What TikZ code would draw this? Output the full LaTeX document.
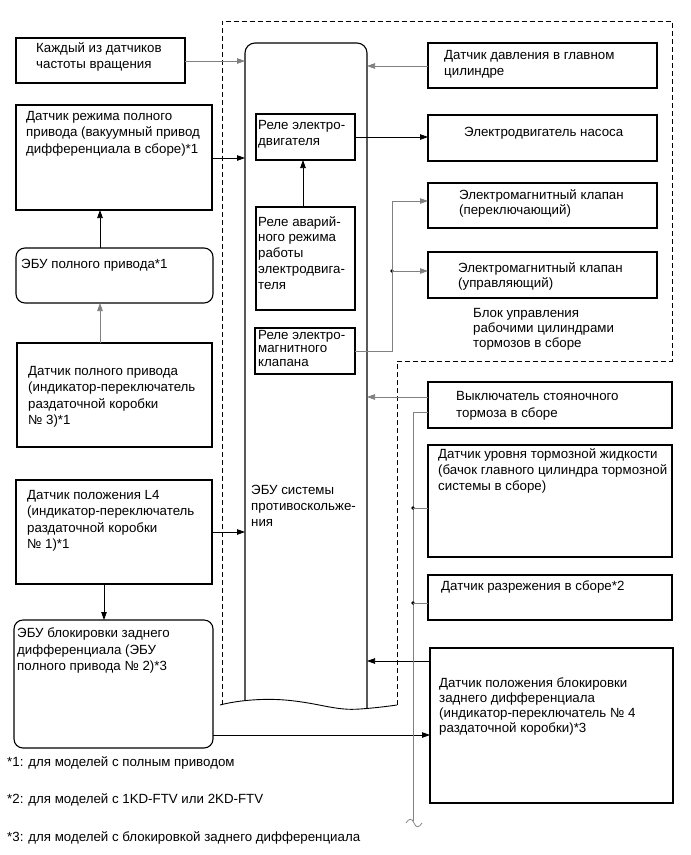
\documentclass[tikz,border=0pt]{standalone}
\usepackage{fontspec}
\setmainfont{Liberation Sans}
\usetikzlibrary{arrows.meta,calc}
\begin{document}
\begin{tikzpicture}[x=1pt,y=-1pt,
  box/.style={draw, line width=1.1pt, anchor=north west, inner sep=0pt, outer sep=0pt},
  rbox/.style={box, rounded corners=9pt},
  txt/.style={anchor=north west, inner sep=0pt, align=left, font=\fontsize{13.3}{16.5}\selectfont},
  txtb/.style={txt, font=\fontsize{13.3}{15}\selectfont},
  txtc/.style={txt, font=\fontsize{13.3}{13.6}\selectfont},
  conn/.style={line width=0.75pt, black},
  gconn/.style={line width=0.75pt, black!50},
  arr/.style={-{Triangle[length=8pt,width=5.5pt]}},
  dashedbox/.style={line width=0.9pt, dash pattern=on 5pt off 3pt},
  jdot/.style={circle, fill=black, inner sep=0pt, minimum size=3.6pt}
]
\useasboundingbox (0,0) rectangle (691,855);

% dashed outline
\draw[dashedbox] (222,705) -- (222,21) -- (672,21) -- (672,361) -- (397,361) -- (397,705);

% ECU
\node[inner sep=0pt, outer sep=0pt, anchor=north west, minimum width=122pt, minimum height=660pt] (ecu) at (245,43) {};
\draw[line width=1.1pt, rounded corners=10pt] (245,700.6) -- (245,43) -- (367,43) -- (367,708.3);
\draw[line width=0.9pt] (220,705) .. controls (235,701) and (260,698) .. (285,700) .. controls (320,703) and (335,711) .. (360,709) .. controls (375,708) and (390,706) .. (397,705);
\node[txt, font=\fontsize{13.3}{16}\selectfont] (ecut) at (251,485) {ЭБУ системы\\противоскольже-\\ния};

% left boxes
\node[box, minimum width=169pt, minimum height=45pt] (s1) at (16,38) {};
\node[txt] (s1t) at (36,42) {Каждый из датчиков\\частоты вращения};
\node[box, minimum width=196pt, minimum height=105pt] (s2) at (16,105) {};
\node[txt] (s2t) at (26,111) {Датчик режима полного\\привода (вакуумный привод\\дифференциала в сборе)*1};
\node[rbox, minimum width=197pt, minimum height=55pt] (e4) at (16,248) {};
\node[txt] (e4t) at (21,259) {ЭБУ полного привода*1};
\node[box, minimum width=195pt, minimum height=104pt] (s3) at (17,343) {};
\node[txt] (s3t) at (28,366) {Датчик полного привода\\(индикатор-переключатель\\раздаточной коробки\\№ 3)*1};
\node[box, minimum width=196pt, minimum height=104pt] (s4) at (16,480) {};
\node[txt] (s4t) at (27,490) {Датчик положения L4\\(индикатор-переключатель\\раздаточной коробки\\№ 1)*1};
\node[rbox, minimum width=199pt, minimum height=128pt] (e2) at (14,620) {};
\node[txt] (e2t) at (17,628) {ЭБУ блокировки заднего\\дифференциала (ЭБУ\\полного привода № 2)*3};

% relays inside ECU
\node[box, minimum width=99pt, minimum height=46pt] (r1) at (256,114) {};
\node[txt, font=\fontsize{13.3}{16}\selectfont] (r1t) at (258,120) {Реле электро-\\двигателя};
\node[box, minimum width=99pt, minimum height=103pt] (r2) at (256,207) {};
\node[txt, font=\fontsize{13.3}{15.8}\selectfont] (r2t) at (258,216) {Реле аварий-\\ного режима\\работы\\электродвига-\\теля};
\node[box, minimum width=100pt, minimum height=46pt] (r3) at (255,328) {};
\node[txtc] (r3t) at (258,330) {Реле электро-\\магнитного\\клапана};

% right boxes
\node[box, minimum width=229pt, minimum height=45pt] (ra) at (428,43) {};
\node[txt, font=\fontsize{13.3}{16}\selectfont] (rat) at (444,50) {Датчик давления в главном\\цилиндре};
\node[box, minimum width=229pt, minimum height=46pt] (rb) at (428,115) {};
\node[txt, anchor=west] (rbt) at (464,133) {Электродвигатель насоса};
\node[box, minimum width=229pt, minimum height=45pt] (rc) at (428,183) {};
\node[txtb] (rct) at (459,189) {Электромагнитный клапан\\(переключающий)};
\node[box, minimum width=229pt, minimum height=46pt] (rd) at (428,252) {};
\node[txtb] (rdt) at (458,262) {Электромагнитный клапан\\(управляющий)};
\node[txtb] (blk) at (473,308) {Блок управления\\рабочими цилиндрами\\тормозов в сборе};

\node[box, minimum width=244pt, minimum height=46pt] (re) at (428,382) {};
\node[txt, font=\fontsize{13.3}{17}\selectfont] (ret) at (456,391) {Выключатель стояночного\\тормоза в сборе};
\node[box, minimum width=244pt, minimum height=112pt] (rf) at (428,445) {};
\node[txt, font=\fontsize{13.3}{16}\selectfont] (rft) at (438,448) {Датчик уровня тормозной жидкости\\(бачок главного цилиндра тормозной\\системы в сборе)};
\node[box, minimum width=244pt, minimum height=45pt] (rg) at (428,575) {};
\node[txt] (rgt) at (441,581) {Датчик разрежения в сборе*2};
\node[box, minimum width=243pt, minimum height=155pt] (rh) at (430,648) {};
\node[txtb] (rht) at (439,678) {Датчик положения блокировки\\заднего дифференциала\\(индикатор-переключатель № 4\\раздаточной коробки)*3};

% footnotes
\node[txt, anchor=west] (f1) at (7,763) {*1: для моделей с полным приводом};
\node[txt, anchor=west] (f2) at (7,800) {*2: для моделей с 1KD-FTV или 2KD-FTV};
\node[txt, anchor=west] (f3) at (7,838) {*3: для моделей с блокировкой заднего дифференциала};

% connectors, left side
\draw[gconn, arr] (s1.east |- 0,61) -- (ecu.west |- 0,61);
\draw[conn, arr] (s2.east |- 0,158) -- (ecu.west |- 0,158);
\draw[conn, arr] (e4.north -| 100,0) -- (s2.south -| 100,0);
\draw[gconn, arr] (s3.north -| 100,0) -- (e4.south -| 100,0);
\draw[conn, arr] (s4.east |- 0,532) -- (ecu.west |- 0,532);
\draw[conn, arr] (s4.south -| 104,0) -- (e2.north -| 104,0);
\draw[conn, arr] (e2.east |- 0,735) -- (rh.west |- 0,735);

% connectors, right side
\draw[gconn, arr] (ra.west |- 0,66) -- (ecu.east |- 0,66);
\draw[conn, arr] (r1.east |- 0,137) -- (rb.west |- 0,137);
\draw[conn, arr] (r2.north -| 303,0) -- (r1.south -| 303,0);
\coordinate (v1) at (392,351);
\coordinate (v2) at (392,201);
\node[jdot] (j1) at (392,271) {};
\draw[gconn, arr] (r3.east |- v1) -- (v1) -- (v2) -- (rc.west |- v2);
\draw[gconn, arr] (j1.center) -- (rd.west |- j1);
\draw[gconn, arr] (re.west |- 0,397) -- (ecu.east |- 0,397);
\draw[conn, arr] (rh.west |- 0,661) -- (ecu.east |- 0,661);

\coordinate (p1) at (413,412);
\coordinate (p2) at (413,821);
\draw[gconn] (re.west |- p1) -- (p1) -- (p2);
\node[jdot] (j2) at (413,508) {};
\node[jdot] (j3) at (413,603) {};
\draw[gconn] (j2.center) -- (rf.west |- j2);
\draw[gconn] (j3.center) -- (rg.west |- j3);
\draw[gconn] (406,823) .. controls (409,818) and (412,818) .. (414,823) .. controls (416,828) and (419,828) .. (422,823);
\end{tikzpicture}
\end{document}
